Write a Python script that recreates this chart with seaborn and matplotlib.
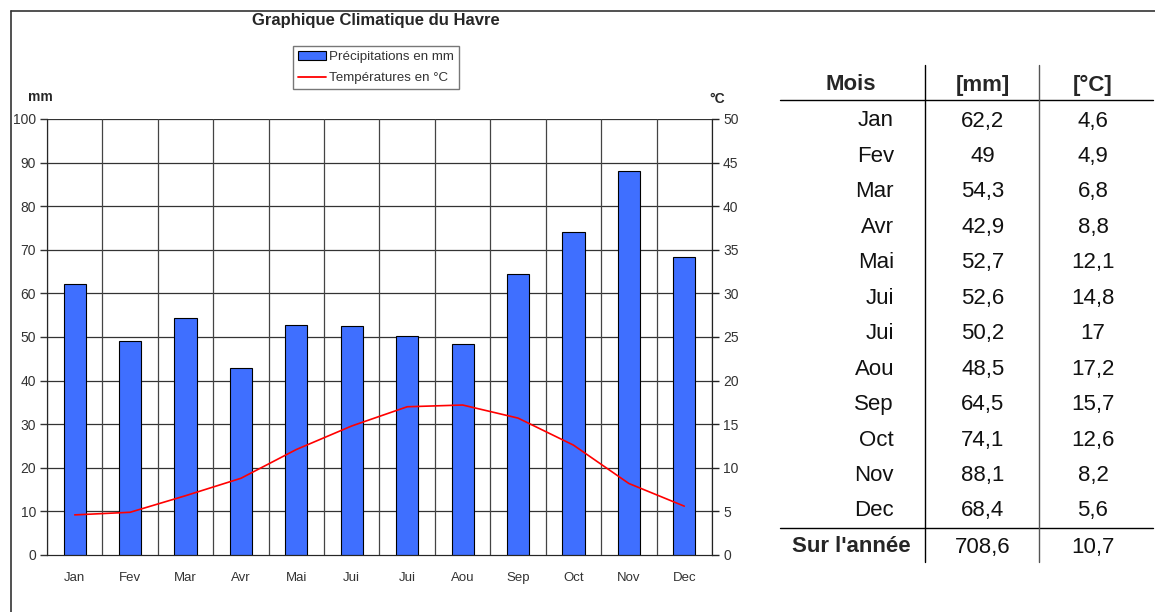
import matplotlib
matplotlib.use("Agg")
import matplotlib.pyplot as plt
import seaborn as sns
import pandas as pd
from matplotlib.patches import Patch
from matplotlib.lines import Line2D

months = ["Jan", "Fev", "Mar", "Avr", "Mai", "Jui", "Jui", "Aou", "Sep", "Oct", "Nov", "Dec"]
precip_mm = [62.2, 49, 54.3, 42.9, 52.7, 52.6, 50.2, 48.5, 64.5, 74.1, 88.1, 68.4]
temp_c = [4.6, 4.9, 6.8, 8.8, 12.1, 14.8, 17, 17.2, 15.7, 12.6, 8.2, 5.6]
precip_labels = ["62,2", "49", "54,3", "42,9", "52,7", "52,6", "50,2", "48,5", "64,5", "74,1", "88,1", "68,4"]
temp_labels = ["4,6", "4,9", "6,8", "8,8", "12,1", "14,8", "17", "17,2", "15,7", "12,6", "8,2", "5,6"]
total_label = "Sur l'année"
total_precip = "708,6"
mean_temp = "10,7"

sns.set_style("white")
plt.rcParams['font.family'] = ['Liberation Sans', 'DejaVu Sans']

W, H = 1155, 612
fig = plt.figure(figsize=(W / 100, H / 100), dpi=100)

def fx(px):
    return px / W

def fy(py):
    return 1 - py / H

ax = fig.add_axes([fx(47), fy(555), fx(712) - fx(47), fy(119) - fy(555)])

df = pd.DataFrame({"pos": list(range(12)), "precip": precip_mm, "temp": temp_c})

bar_color = "#3F6FFF"
sns.barplot(data=df, x="pos", y="precip", color=bar_color, width=0.4,
            edgecolor="black", linewidth=0.8, saturation=1, ax=ax, zorder=3)

lab_col = "#333333"
ax.set_xlim(-0.5, 11.5)
ax.set_ylim(0, 100)
ax.set_yticks(range(0, 101, 10))
ax.set_xticks(range(12))
ax.set_xticklabels(months)
ax.set_xticks([i - 0.5 for i in range(13)], minor=True)
ax.tick_params(axis="x", which="major", length=0, pad=12, labelsize=9.5, colors=lab_col)
ax.tick_params(axis="x", which="minor", length=5, width=1, color="#555555", direction="out")
ax.tick_params(axis="y", length=5, width=1, color="#333333", direction="out", left=True,
               labelsize=10, labelcolor=lab_col, pad=3)
ax.set_xlabel("")
ax.set_ylabel("")
ax.grid(False)
for y in range(10, 101, 10):
    ax.axhline(y, color="#333333", linewidth=0.9, zorder=1)
for i in range(13):
    ax.axvline(i - 0.5, color="#444444", linewidth=0.9, zorder=1)
ax.spines["top"].set_visible(False)
ax.spines["left"].set_color("#555555")
ax.spines["bottom"].set_color("#444444")
ax.spines["right"].set_color("#222222")

ax2 = ax.twinx()
sns.lineplot(data=df, x="pos", y="temp", color="red", linewidth=1.2, ax=ax2, zorder=4)
ax2.set_ylim(0, 50)
ax2.set_yticks(range(0, 51, 5))
ax2.tick_params(axis="y", length=5, width=1, color="#222222", direction="out", right=True,
                labelsize=10, labelcolor=lab_col, pad=3)
ax2.set_ylabel("")
ax2.set_xlabel("")
ax2.grid(False)
ax2.spines["top"].set_visible(False)
ax2.spines["right"].set_color("#222222")
ax2.set_xlim(-0.5, 11.5)

fig.text(fx(376), fy(21), "Graphique Climatique du Havre", ha="center", va="center",
         fontsize=12, fontweight="bold")
fig.text(fx(40), fy(97), "mm", ha="center", va="center", fontsize=10, fontweight="bold")
fig.text(fx(717), fy(99), "°C", ha="center", va="center", fontsize=10, fontweight="bold")

handles = [Patch(facecolor=bar_color, edgecolor="black", linewidth=0.8),
           Line2D([0], [0], color="red", linewidth=1.3)]
leg = fig.legend(handles, ["Précipitations en mm", "Températures en °C"],
                 loc="upper left", bbox_to_anchor=(fx(293), fy(46)),
                 fancybox=False, shadow=False, frameon=True, fontsize=9.6,
                 handlelength=2.1, handleheight=0.6, handletextpad=0.2,
                 borderpad=0.4, labelspacing=0.65, borderaxespad=0)
leg.get_frame().set_edgecolor("#555555")
leg.get_frame().set_linewidth(1)
for t in leg.get_texts():
    t.set_color(lab_col)

# outer frame (top and left)
fig.add_artist(Line2D([fx(11), fx(1155)], [fy(11), fy(11)], color="#333333", linewidth=1.2))
fig.add_artist(Line2D([fx(11), fx(11)], [fy(11), fy(612)], color="#333333", linewidth=1.2))

# table
tsize = 16
row_y0 = 121
row_dy = 35.45
tc = "#111111"
fig.text(fx(851), fy(85), "Mois", ha="center", va="center", fontsize=tsize, fontweight="bold")
fig.text(fx(983), fy(85), "[mm]", ha="center", va="center", fontsize=tsize, fontweight="bold")
fig.text(fx(1093), fy(85), "[°C]", ha="center", va="center", fontsize=tsize, fontweight="bold")
for i, (m, p, t) in enumerate(zip(months, precip_labels, temp_labels)):
    yy = row_y0 + row_dy * i
    fig.text(fx(894), fy(yy), m, ha="right", va="center", fontsize=tsize, color=tc)
    fig.text(fx(983), fy(yy), p, ha="center", va="center", fontsize=tsize, color=tc)
    fig.text(fx(1093), fy(yy), t, ha="center", va="center", fontsize=tsize, color=tc)
fig.text(fx(851), fy(547), total_label, ha="center", va="center", fontsize=tsize, fontweight="bold")
fig.text(fx(983), fy(547), total_precip, ha="center", va="center", fontsize=tsize, color=tc)
fig.text(fx(1093), fy(547), mean_temp, ha="center", va="center", fontsize=tsize, color=tc)

fig.add_artist(Line2D([fx(780), fx(1153)], [fy(100), fy(100)], color="black", linewidth=1))
fig.add_artist(Line2D([fx(780), fx(1153)], [fy(528), fy(528)], color="black", linewidth=1))
fig.add_artist(Line2D([fx(925), fx(925)], [fy(65), fy(562)], color="black", linewidth=1))
fig.add_artist(Line2D([fx(1039), fx(1039)], [fy(65), fy(562)], color="#555555", linewidth=1))

fig.savefig("out.png", dpi=100)
